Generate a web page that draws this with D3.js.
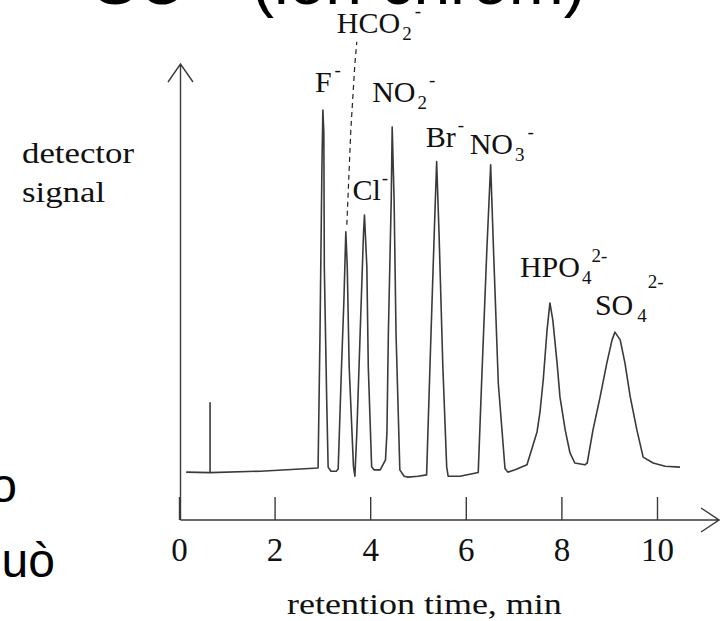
<!DOCTYPE html>
<html>
<head>
<meta charset="utf-8">
<script src="https://cdn.jsdelivr.net/npm/d3@7"></script>
<style>
  body { margin: 0; background: #fff; }
  svg { display: block; background: #fff; }
  .serif { font-family: "Liberation Serif", "Times New Roman", serif; fill: #111; }
  .slide { font-family: "Liberation Sans", Arial, sans-serif; fill: #000; }
</style>
</head>
<body>
<svg id="svg1"></svg>
<script>
// chromatogram trace: retention time (min) and detector signal (0 = x axis, 100 = arrow tip)
var timeMin = [0.15, 0.65, 0.65, 0.65, 1.70, 2.91, 2.91, 2.95, 2.99, 3.01, 3.03, 3.04, 3.09, 3.12, 3.18, 3.29,
  3.33, 3.40, 3.45, 3.49, 3.52, 3.56, 3.65, 3.68, 3.72, 3.79, 3.86, 3.88, 3.93, 3.96, 4.03, 4.08, 4.21,
  4.32, 4.35, 4.38, 4.44, 4.46, 4.50, 4.54, 4.62, 4.71, 4.79, 5.00, 5.18, 5.25, 5.34, 5.39, 5.44, 5.52,
  5.60, 5.63, 5.88, 6.26, 6.33, 6.44, 6.52, 6.58, 6.68, 6.82, 6.88, 7.03, 7.28, 7.49, 7.55, 7.62, 7.70,
  7.76, 7.82, 7.91, 7.97, 8.08, 8.18, 8.28, 8.49, 8.54, 8.66, 8.81, 8.95, 9.06, 9.12, 9.23, 9.33, 9.44,
  9.58, 9.71, 9.92, 10.17, 10.48];
var signal = [10.5, 10.4, 25.7, 10.4, 10.7, 11.4, 11.7, 41.0, 77.4, 89.9, 84.9, 55.5, 26.3, 11.6, 10.7, 10.7,
  11.2, 33.6, 48.2, 63.2, 55.5, 33.6, 11.7, 9.6, 19.1, 41.0, 62.9, 66.9, 55.5, 33.6, 11.7, 11.0, 11.0,
  13.2, 19.1, 41.0, 70.2, 86.2, 70.2, 41.0, 11.0, 9.6, 9.4, 9.6, 9.9, 33.6, 62.9, 78.6, 62.9, 33.6,
  11.7, 9.6, 9.6, 10.4, 30.0, 59.2, 77.9, 59.2, 30.0, 11.3, 10.5, 11.0, 12.1, 19.3, 23.5, 30.7, 41.7,
  47.6, 43.9, 34.4, 27.0, 19.7, 14.7, 12.5, 12.1, 12.5, 19.7, 27.0, 34.4, 39.5, 41.2, 39.5, 34.4, 27.0,
  19.7, 13.8, 12.5, 11.8, 11.6];

var tickValues = [0, 2, 4, 6, 8, 10];

// peak labels
var ions = ["F", "HCO2", "Cl", "NO2", "Br", "NO3", "HPO4", "SO4"];
var ionBase = ["F", "HCO", "Cl", "NO", "Br", "NO", "HPO", "SO"];
var ionSub = ["", "2", "", "2", "", "3", "4", "4"];
var ionCharge = ["-", "-", "-", "-", "-", "-", "2-", "2-"];
var peakTimes = [3.01, 3.49, 3.88, 4.46, 5.39, 6.52, 7.76, 9.12];

// label offsets from the peak apex, in px
var labelLayout = {
  F:    {dx: -8,  dy: -18, supGap: 3},
  HCO2: {dx: -9,  dy: -199, supGap: 3, leader: [[1, -7], [5, -102], [9, -167], [11, -190]]},
  Cl:   {dx: -12, dy: -15, supGap: 1},
  NO2:  {dx: -20, dy: -25, supGap: 2},
  Br:   {dx: -11, dy: -15, supGap: 2},
  NO3:  {dx: -21, dy: -11, supGap: 3},
  HPO4: {dx: -30, dy: -26, supGap: 0, supDy: -15},
  SO4:  {dx: -20, dy: -17, subGap: 4, supGap: 1, supDy: -27}
};

var width = 720, height = 621;
var ink = '#3a3a3a';

var svg = d3.select('#svg1')
  .attr('width', width)
  .attr('height', height);

var x = d3.scaleLinear()
  .domain([0, 10])
  .range([179, 657]);
var y = d3.scaleLinear()
  .domain([0, 100])
  .range([520, 64]);

// slide text cut off by the crop
svg.append('text')
  .attr('class', 'slide')
  .attr('x', 93).attr('y', 4)
  .attr('font-size', 66)
  .text('SC');
svg.append('text')
  .attr('class', 'slide')
  .attr('x', 252).attr('y', 4)
  .attr('font-size', 66)
  .text('(ion chrom)');
svg.append('text')
  .attr('class', 'slide')
  .attr('x', 17).attr('y', 502)
  .attr('text-anchor', 'end')
  .attr('font-size', 48)
  .text('đo');
svg.append('text')
  .attr('class', 'slide')
  .attr('x', 55).attr('y', 577)
  .attr('text-anchor', 'end')
  .attr('font-size', 48)
  .text('Nguò');

// axes with arrow heads
var x0 = 180.5, yTop = y(100), xEnd = 719;
svg.append('path')
  .attr('d', 'M' + x0 + ',' + y(0) + 'V' + yTop +
    'M' + (x0 - 12.5) + ',' + (yTop + 18) + 'L' + x0 + ',' + yTop + 'L' + (x0 + 12.5) + ',' + (yTop + 18))
  .attr('fill', 'none')
  .attr('stroke', ink)
  .attr('stroke-width', 1.4);
svg.append('path')
  .attr('d', 'M' + x0 + ',' + y(0) + 'H' + xEnd +
    'M' + (xEnd - 18) + ',' + (y(0) - 12) + 'L' + xEnd + ',' + y(0) + 'L' + (xEnd - 18) + ',' + (y(0) + 12))
  .attr('fill', 'none')
  .attr('stroke', ink)
  .attr('stroke-width', 1.4);

var xAxis = svg.append('g')
  .attr('transform', 'translate(0,' + y(0) + ')')
  .call(d3.axisBottom(x).tickValues(tickValues).tickSize(-23).tickPadding(18).tickSizeOuter(0));
xAxis.select('.domain').remove();
xAxis.selectAll('line').attr('stroke', ink).attr('stroke-width', 1.4);
xAxis.selectAll('text')
  .attr('class', 'serif')
  .attr('font-size', 33)
  .attr('fill', '#111');

// axis titles (the source figure is stretched sideways)
svg.append('text')
  .attr('class', 'serif')
  .attr('transform', 'translate(22,163) scale(1.2,1)')
  .attr('font-size', 29)
  .text('detector');
svg.append('text')
  .attr('class', 'serif')
  .attr('transform', 'translate(22,202) scale(1.2,1)')
  .attr('font-size', 29)
  .text('signal');
svg.append('text')
  .attr('class', 'serif')
  .attr('transform', 'translate(287,614) scale(1.2,1)')
  .attr('font-size', 30)
  .text('retention time, min');

// trace
var trace = timeMin.map(function(t, i) { return [t, signal[i]]; });
var line = d3.line()
  .x(function(d) { return x(d[0]); })
  .y(function(d) { return y(d[1]); });
svg.append('path')
  .datum(trace)
  .attr('d', line)
  .attr('fill', 'none')
  .attr('stroke', ink)
  .attr('stroke-width', 1.6)
  .attr('stroke-linejoin', 'round');

// peak labels
ions.forEach(function(ion, i) {
  var near = trace.filter(function(d) { return Math.abs(d[0] - peakTimes[i]) < 0.1; });
  var apex = d3.greatest(near, function(d) { return d[1]; });
  var lay = labelLayout[ion];
  var ax = x(apex[0]), ay = y(apex[1]);

  if (lay.leader) {
    svg.append('path')
      .attr('d', d3.line()(lay.leader.map(function(p) { return [ax + p[0], ay + p[1]]; })))
      .attr('fill', 'none')
      .attr('stroke', '#222')
      .attr('stroke-width', 1.2)
      .attr('stroke-dasharray', '5,4');
  }

  var g = svg.append('g')
    .attr('class', 'serif')
    .attr('transform', 'translate(' + (ax + lay.dx) + ',' + (ay + lay.dy) + ')');
  var main = g.append('text').attr('font-size', 30).text(ionBase[i]);
  var cx = main.node().getComputedTextLength();
  if (ionSub[i]) {
    cx += lay.subGap || 2;
    var sub = g.append('text')
      .attr('x', cx).attr('y', 7)
      .attr('font-size', 19)
      .text(ionSub[i]);
    cx += sub.node().getComputedTextLength();
  }
  g.append('text')
    .attr('x', cx + lay.supGap)
    .attr('y', lay.supDy || -16)
    .attr('font-size', 19)
    .text(ionCharge[i]);
});
</script>
</body>
</html>
